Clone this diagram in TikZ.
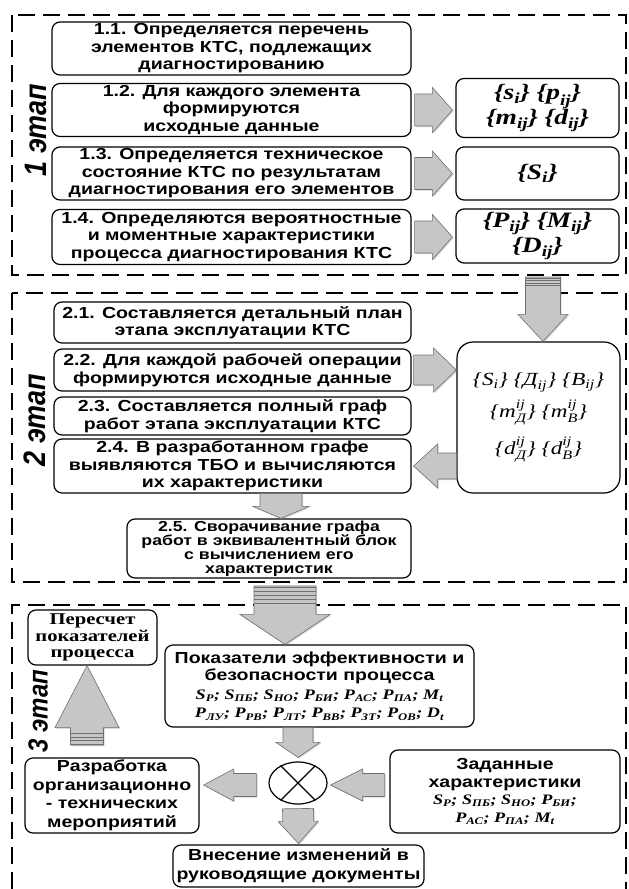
\documentclass[tikz,border=0pt]{standalone}
\usepackage{fontspec}
\usepackage{amsmath}
\usetikzlibrary{calc,shapes.geometric,shadows}
\newfontfamily\boxfont{Liberation Sans}[FakeStretch=1.22]
\newfontfamily\frmfont{Liberation Serif}[FakeStretch=1.25]
\newfontfamily\lblfont{Liberation Sans}
\definecolor{arrgray}{HTML}{C4C6C8}
\definecolor{arrline}{HTML}{707070}
\newcommand{\ix}[2]{$\text{#1}_{\text{#2}}$}
\newcommand{\ixx}[3]{$\text{#1}^{\text{#2}}_{\text{#3}}$}
\newcommand{\barrow}[5]{
  \coordinate (ba) at (#1);
  \coordinate (bt) at (#2);
  \coordinate (bh) at ($(bt)!#5pt!(ba)$);
  \draw[barr] ($(ba)!#3pt!90:(bt)$) -- ($(bh)!#3pt!90:(bt)$) -- ($(bh)!#4pt!90:(bt)$) -- (bt)
    -- ($(bh)!#4pt!-90:(bt)$) -- ($(bh)!#3pt!-90:(bt)$) -- ($(ba)!#3pt!-90:(bt)$) -- cycle;
}
\newcommand{\hstripes}[3]{\foreach \o in {#3} {\draw[stripe] ($(#1)+(-#2,\o)$) -- ++(2*#2,0);}}

\begin{document}
\begin{tikzpicture}[x=1pt,y=-1pt,
  box/.style={draw,rounded corners=8pt,line width=1.2pt,align=center,inner sep=0pt,
    font=\boxfont\bfseries\fontsize{16}{17.5}\selectfont},
  dat/.style={box,font=\frmfont\bfseries\itshape\fontsize{22}{25}\selectfont},
  stage/.style={inner sep=0pt,font=\lblfont\bfseries\itshape\fontsize{27}{27}\selectfont},
  frm/.style={line width=1.6pt,dash pattern=on 17pt off 8pt},
  barr/.style={fill=arrgray,draw=arrline,line width=.6pt,
    drop shadow={shadow xshift=1.2pt,shadow yshift=-1.2pt,opacity=.3,fill=gray}},
  stripe/.style={draw=arrline,line width=.7pt}]
\path[use as bounding box] (0,0) rectangle (629,889);

\draw[frm] (12,15) rectangle (626,275);
\draw[frm] (12,293) rectangle (626,582);
\draw[frm] (12,889) -- (12,605) -- (626,605) -- (626,889);

\node[stage] (lab1) at (36,130) {\rotatebox{90}{\scalebox{1}[1.15]{1 этап}}};
\node[stage] (lab2) at (35,420) {\rotatebox{90}{\scalebox{1}[1.15]{2 этап}}};
\node[stage,font=\lblfont\bfseries\itshape\fontsize{24}{24}\selectfont] (lab3) at (38,711) {\rotatebox{90}{\scalebox{1}[1.15]{3 этап}}};

\node[box,minimum width=359,minimum height=53] (s11) at (231.5,48.5) {1.1. Определяется перечень\\элементов КТС, подлежащих\\диагностированию};
\node[box,minimum width=359,minimum height=53] (s12) at (231.5,110) {1.2. Для каждого элемента\\формируются\\исходные данные};
\node[box,minimum width=359,minimum height=53] (s13) at (231.5,173.5) {1.3. Определяется техническое\\состояние КТС по результатам\\диагностирования его элементов};
\node[box,minimum width=359,minimum height=55] (s14) at (231.5,237) {1.4. Определяются вероятностные\\и моментные характеристики\\процесса диагностирования КТС};
\node[dat,minimum width=163,minimum height=59] (d12) at (537.5,108) {\{\ix{s}{i}\} \{\ix{p}{ij}\}\\\{\ix{m}{ij}\} \{\ix{d}{ij}\}};
\node[dat,minimum width=163,minimum height=53] (d13) at (537.5,173.5) {\{\ix{S}{i}\}};
\node[dat,minimum width=163,minimum height=54] (d14) at (537.5,236) {\{\ix{P}{ij}\} \{\ix{M}{ij}\}\\\{\ix{D}{ij}\}};
\foreach \k in {2,3,4}
  {\barrow{$(s1\k.east)+(3,0)$}{$(d1\k.west |- s1\k.east)+(-3,0)$}{16}{22.5}{20}}

\node[box,minimum width=357,minimum height=41] (s21) at (232.5,322.5) {2.1. Составляется детальный план\\этапа эксплуатации КТС};
\node[box,minimum width=357,minimum height=42] (s22) at (232.5,370) {2.2. Для каждой рабочей операции\\формируются исходные данные};
\node[box,minimum width=357,minimum height=38] (s23) at (232.5,416) {2.3. Составляется полный граф\\работ этапа эксплуатации КТС};
\node[box,minimum width=357,minimum height=54] (s24) at (232.5,466) {2.4. В разработанном графе\\выявляются ТБО и вычисляются\\их характеристики};
\node[box,minimum width=284,minimum height=59,font=\boxfont\bfseries\fontsize{14.5}{14}\selectfont] (s25) at (269,548.5) {2.5. Сворачивание графа\\работ в эквивалентный блок\\с вычислением его\\характеристик};
\node[box,rounded corners=16pt,minimum width=163,minimum height=151,font=\frmfont\itshape\fontsize{18.5}{37}\selectfont] (d2) at (538.5,417.5)
  {\raisebox{-5pt}{\{\ix{S}{i}\} \{\ix{Д}{ij}\} \{\ix{В}{ij}\}}\\\{\ixx{m}{ij}{Д}\} \{\ixx{m}{ij}{В}\}\\\{\ixx{d}{ij}{Д}\} \{\ixx{d}{ij}{В}\}};
\barrow{$(s22.east)+(2,0)$}{d2.west |- s22.east}{15}{22}{23}
\barrow{d2.west |- s24.east}{$(s24.east)+(2,0)$}{13}{22}{24}
\coordinate (t25) at ($(s25.north)+(12,0)$);
\barrow{t25 |- s24.south}{t25}{21}{28}{12}

\coordinate (k1) at (543,277);
\barrow{k1}{k1 |- d2.north}{17.5}{25}{27}
\hstripes{k1}{17.5}{1,3.5,6,8.5}

\node[box,minimum width=129,minimum height=55,font=\frmfont\bfseries\fontsize{16.5}{16.5}\selectfont] (recalc) at (92.5,637.5) {Пересчет\\показателей\\процесса};
\node[box,minimum width=309,minimum height=82] (indic) at (319.5,686) {Показатели эффективности и\\безопасности процесса\\[1pt]
  {\frmfont\itshape\fontsize{14.5}{17.5}\selectfont \ix{S}{P}; \ix{S}{ПБ}; \ix{S}{НО}; \ix{P}{БИ}; \ix{P}{АС}; \ix{P}{ПА}; \ix{M}{t}}\\[1pt]
  {\frmfont\itshape\fontsize{14.5}{17.5}\selectfont \ix{P}{ЛУ}; \ix{P}{РВ}; \ix{P}{ЛТ}; \ix{P}{ВВ}; \ix{P}{ЗТ}; \ix{P}{ОВ}; \ix{D}{t}}};
\node[draw,ellipse,line width=1.2pt,minimum width=58,minimum height=42,inner sep=0pt] (sum) at (298,783) {};
\draw[line width=1.2pt] (sum.45) -- (sum.225) (sum.135) -- (sum.315);
\node[box,minimum width=174,minimum height=75,font=\boxfont\bfseries\fontsize{16}{18.5}\selectfont] (meas) at (112,795.5) {Разработка\\организационно\\- технических\\мероприятий};
\node[box,minimum width=230,minimum height=83] (given) at (505,791.5) {Заданные\\характеристики\\
  {\frmfont\itshape\fontsize{14.5}{17.5}\selectfont \ix{S}{P}; \ix{S}{ПБ}; \ix{S}{НО}; \ix{P}{БИ};}\\
  {\frmfont\itshape\fontsize{14.5}{17.5}\selectfont \ix{P}{АС}; \ix{P}{ПА}; \ix{M}{t}}};
\node[box,minimum width=251,minimum height=42,font=\boxfont\bfseries\fontsize{16}{19}\selectfont] (docs) at (298.5,866) {Внесение изменений в\\руководящие документы};

\coordinate (k2) at (285,586);
\barrow{k2}{k2 |- indic.north}{31}{45}{30}
\hstripes{k2}{31}{1,5,9,13,17}
\barrow{indic.south -| sum}{$(sum.north)+(0,-4)$}{15}{22}{15}
\barrow{$(sum.west)+(-12,2)$}{$(meas.east |- sum.west)+(4,2)$}{11.5}{16}{30}
\barrow{$(given.west |- sum.east)+(-5,2)$}{$(sum.east)+(3,2)$}{11.5}{16}{32}
\barrow{$(sum.south)+(0,4)$}{$(docs.north)+(0,-1)$}{15.5}{20}{22}
\coordinate (k3) at (87,745);
\barrow{k3}{k3 |- recalc.south}{16.5}{32}{62}
\hstripes{k3}{16.5}{-1,-4.5,-8,-11.5}
\end{tikzpicture}
\end{document}
